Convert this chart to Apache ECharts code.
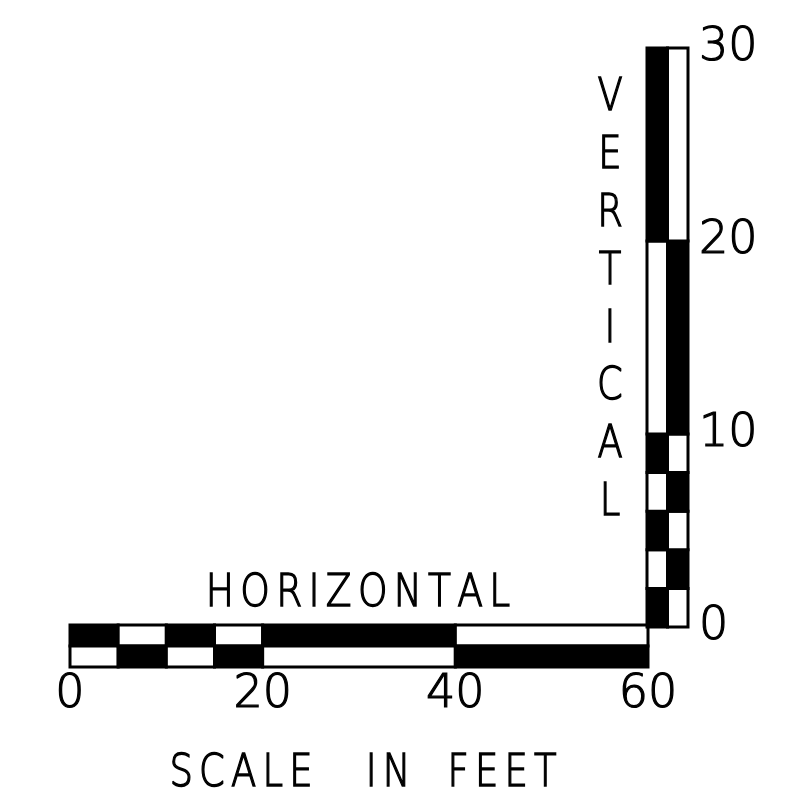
<!DOCTYPE html>
<html><head><meta charset="utf-8">
<script src="https://cdn.jsdelivr.net/npm/echarts@6/dist/echarts.min.js"></script>
<style>html,body{margin:0;padding:0;background:#fff}#c{width:789px;height:801px}</style>
</head><body><div id="c"></div>
<script>
// Horizontal scale (feet): segment breaks and which cells are dark
const hBreaks = [0, 5, 10, 15, 20, 40, 60];
const hTopDark = [1, 0, 1, 0, 1, 0];
const hBottomDark = [0, 1, 0, 1, 0, 1];
const hTicks = [0, 20, 40, 60];
// Vertical scale (feet)
const vBreaks = [0, 2, 4, 6, 8, 10, 20, 30];
const vLeftDark = [1, 0, 1, 0, 1, 0, 1];
const vRightDark = [0, 1, 0, 1, 0, 1, 0];
const vTicks = [0, 10, 20, 30];
const rows = ['bottom', 'top'];
const cols = ['left', 'right'];
const titleH = 'HORIZONTAL';
const titleV = 'VERTICAL';
const titleMainWords = ['SCALE', 'IN', 'FEET'];

const hData = [];
for (let i = 0; i < hBreaks.length - 1; i++) {
  hData.push([hBreaks[i], hBreaks[i + 1], 1, hTopDark[i]]);
  hData.push([hBreaks[i], hBreaks[i + 1], 0, hBottomDark[i]]);
}
const vData = [];
for (let i = 0; i < vBreaks.length - 1; i++) {
  vData.push([vBreaks[i], vBreaks[i + 1], 0, vLeftDark[i]]);
  vData.push([vBreaks[i], vBreaks[i + 1], 1, vRightDark[i]]);
}

const FONT = '"DejaVu Sans", sans-serif';
const cellStyle = d => ({ fill: d ? '#000' : '#fff', stroke: '#000', lineWidth: 3 });
const spaced = (s) => s.split('').join('\u2006');
const txt = (text, x, y, sx, extra) => ({ type: 'text', x: x, y: y, scaleX: sx,
  style: Object.assign({ text: text, fontSize: 45, fontFamily: FONT, fontWeight: 200, fill: '#000',
    stroke: '#000', lineWidth: 1.4,
    textAlign: 'center', textVerticalAlign: 'middle' }, extra || {}) });
const mainCenters = [241, 388, 502];
const labelStyle = { fontSize: 46, fontFamily: FONT, fontWeight: 200, color: '#000',
  textBorderColor: '#000', textBorderWidth: 1.2 };

const chart = echarts.init(document.getElementById('c'), null, { renderer: 'canvas' });
chart.setOption({
  animation: false,
  backgroundColor: '#fff',
  grid: [
    { left: 70, width: 578, top: 625, height: 42 },
    { left: 647, width: 41, top: 48, height: 579 }
  ],
  xAxis: [
    { gridIndex: 0, type: 'value', min: 0, max: 60, interval: 20,
      axisLine: { show: false }, axisTick: { show: false }, splitLine: { show: false },
      axisLabel: Object.assign({ margin: 5, formatter: v => hTicks.includes(v) ? String(v) : '' }, labelStyle) },
    { gridIndex: 1, type: 'category', data: cols, show: false }
  ],
  yAxis: [
    { gridIndex: 0, type: 'category', data: rows, show: false },
    { gridIndex: 1, type: 'value', min: 0, max: 30, interval: 10, position: 'right',
      axisLine: { show: false }, axisTick: { show: false }, splitLine: { show: false },
      axisLabel: Object.assign({ margin: 11, align: 'left', formatter: v => vTicks.includes(v) ? String(v) : '' }, labelStyle) }
  ],
  series: [
    { type: 'custom', xAxisIndex: 0, yAxisIndex: 0, data: hData,
      encode: { x: [0, 1], y: 2 },
      renderItem: (params, api) => {
        const p0 = api.coord([api.value(0), api.value(2)]);
        const p1 = api.coord([api.value(1), api.value(2)]);
        const h = api.size([0, 1])[1];
        return { type: 'rect', shape: { x: p0[0], y: p0[1] - h / 2, width: p1[0] - p0[0], height: h },
          style: cellStyle(api.value(3)) };
      } },
    { type: 'custom', xAxisIndex: 1, yAxisIndex: 1, data: vData,
      encode: { y: [0, 1], x: 2 },
      renderItem: (params, api) => {
        const p0 = api.coord([api.value(2), api.value(0)]);
        const p1 = api.coord([api.value(2), api.value(1)]);
        const w = api.size([1, 0])[0];
        return { type: 'rect', shape: { x: p0[0] - w / 2, y: p1[1], width: w, height: p0[1] - p1[1] },
          style: cellStyle(api.value(3)) };
      } }
  ],
  graphic: [
    txt(spaced(titleH), 358, 594, 0.835),
    txt(spaced(titleMainWords[0]), mainCenters[0], 774, 0.82),
    txt(spaced(titleMainWords[1]), mainCenters[1], 774, 0.82),
    txt(spaced(titleMainWords[2]), mainCenters[2], 774, 0.82),
    txt(titleV.split('').join('\n'), 610, 301, 0.82, { lineHeight: 57.8 })
  ]
});
</script></body></html>
